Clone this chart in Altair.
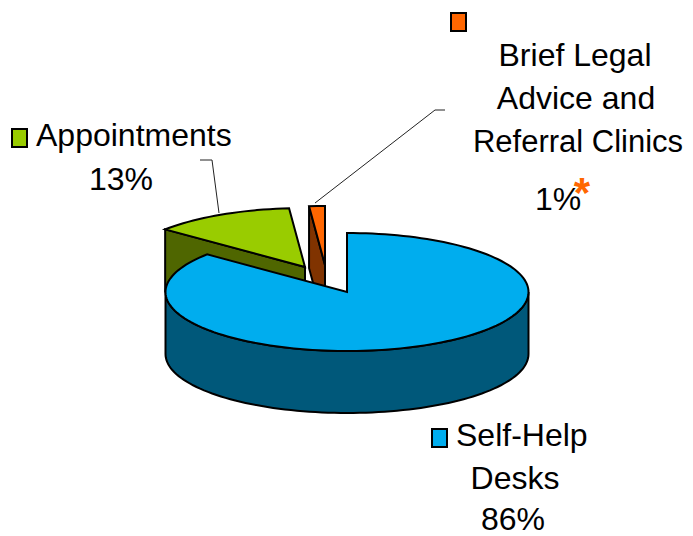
import math
import altair as alt
import pandas as pd

# Data
slices = ["Self-Help Desks", "Appointments", "Brief Legal Advice and Referral Clinics"]
shares = [86.0, 12.6, 1.4]
top_colors = ["#00ADEE", "#99CC00", "#FF6600"]
side_colors = ["#00587A", "#4F6600", "#803300"]

# Layout constants (page pixels; the canvas starts at 8,8)
CX, CY, RX, RY, DEPTH = 347.0, 292.0, 181.5, 59.0, 62.0
OFFSETS = [(0, 0), (-42, -25), (-22, -27)]
W, H = 677, 528


def pt(angle, off, dy=0.0):
    a = math.radians(angle)
    return [CX + off[0] + RX * math.sin(a) - 8, CY + off[1] - RY * math.cos(a) + dy - 8]


def apex(off, dy=0.0):
    return [CX + off[0] - 8, CY + off[1] + dy - 8]


def arc(a0, a1, off, dy=0.0):
    n = max(2, int(abs(a1 - a0) / 2))
    return [pt(a0 + (a1 - a0) * i / n, off, dy) for i in range(n + 1)]


def feature(ring, color):
    return {
        "type": "Feature",
        "geometry": {"type": "Polygon", "coordinates": [ring + [ring[0]]]},
        "properties": {"color": color},
    }


angles = []
start = 0.0
for s in shares:
    angles.append((start, start + s * 3.6))
    start += s * 3.6

faces = []
# Appointments: cut face, then top
a0, a1 = angles[1]
off = OFFSETS[1]
faces.append(feature([pt(a0, off), apex(off), apex(off, DEPTH), pt(a0, off, DEPTH)], side_colors[1]))
faces.append(feature([apex(off)] + arc(a0, a1, off), top_colors[1]))
# Brief legal advice: cut face, then top
a0, a1 = angles[2]
off = OFFSETS[2]
faces.append(feature([pt(a0, off), apex(off), apex(off, DEPTH), pt(a0, off, DEPTH)], side_colors[2]))
faces.append(feature([apex(off)] + arc(a0, a1, off), top_colors[2]))
# Self-help desks: outer wall, then top
a0, a1 = angles[0]
off = OFFSETS[0]
faces.append(feature(arc(90, 270, off) + arc(270, 90, off, DEPTH), side_colors[0]))
faces.append(feature([apex(off)] + arc(a0, a1, off), top_colors[0]))

pie = (
    alt.Chart(alt.Data(values=faces))
    .mark_geoshape(stroke="black", strokeWidth=2, strokeJoin="miter", clip=False)
    .encode(color=alt.Color("properties.color:N", scale=None))
    .project(type="identity", scale=1, translate=[0, 0])
)

# Leader lines
leaders = pd.DataFrame({
    "x": [200, 212, 219, 445, 435, 315],
    "y": [160, 160, 213, 110, 110, 203],
    "g": ["a", "a", "a", "b", "b", "b"],
    "o": [0, 1, 2, 0, 1, 2],
})
leaders["x"] -= 8
leaders["y"] -= 8
leader_layer = (
    alt.Chart(leaders)
    .mark_line(color="#222222", strokeWidth=1)
    .encode(
        x=alt.X("x:Q", scale=None, axis=None),
        y=alt.Y("y:Q", scale=None, axis=None),
        detail="g:N",
        order="o:Q",
    )
)

# Legend swatches
swatch_names = slices
swatch_x = [432, 12, 451]
swatch_y = [429, 129, 13]
swatches = pd.DataFrame({
    "name": swatch_names,
    "x": [v - 8 for v in swatch_x],
    "x2": [v - 8 + 15 for v in swatch_x],
    "y": [v - 8 for v in swatch_y],
    "y2": [v - 8 + 18 for v in swatch_y],
    "c": top_colors,
})
swatch_layer = (
    alt.Chart(swatches)
    .mark_rect(stroke="black", strokeWidth=2)
    .encode(
        x=alt.X("x:Q", scale=None, axis=None),
        x2="x2:Q",
        y=alt.Y("y:Q", scale=None, axis=None),
        y2="y2:Q",
        color=alt.Color("c:N", scale=None),
    )
)

# Text labels
text_rows = [
    ("Brief Legal", 575, 66, "center", 32),
    ("Advice and", 576, 109, "center", 32),
    ("Referral Clinics", 578, 152, "center", 31),
    ("1%", 558, 210, "center", 32),
    ("Appointments", 36, 146, "left", 32),
    ("13%", 121, 190, "center", 32),
    ("Self-Help", 456, 446, "left", 32),
    ("Desks", 515, 489, "center", 32),
    ("86%", 513, 530, "center", 32),
]
labels = pd.DataFrame(text_rows, columns=["t", "x", "y", "a", "s"])
labels["x"] -= 8
labels["y"] -= 8


def text_layer(align):
    return (
        alt.Chart(labels[labels.a == align])
        .mark_text(font="Liberation Sans", align=align, baseline="alphabetic", color="black")
        .encode(
            x=alt.X("x:Q", scale=None, axis=None),
            y=alt.Y("y:Q", scale=None, axis=None),
            size=alt.Size("s:Q", scale=None, legend=None),
            text="t:N",
        )
    )


star = (
    alt.Chart(pd.DataFrame({"t": ["*"], "x": [582 - 8], "y": [207 - 8]}))
    .mark_text(font="Liberation Sans", fontSize=42, fontWeight="bold", align="center",
               baseline="alphabetic", color="#FF6600")
    .encode(
        x=alt.X("x:Q", scale=None, axis=None),
        y=alt.Y("y:Q", scale=None, axis=None),
        text="t:N",
    )
)

chart = (
    alt.layer(pie, leader_layer, swatch_layer, text_layer("center"), text_layer("left"), star)
    .properties(width=W, height=H, padding=0, autosize=alt.AutoSizeParams(type="none"))
    .configure_view(stroke=None)
)

chart.save("out.html", embed_options={"renderer": "svg", "actions": False})
